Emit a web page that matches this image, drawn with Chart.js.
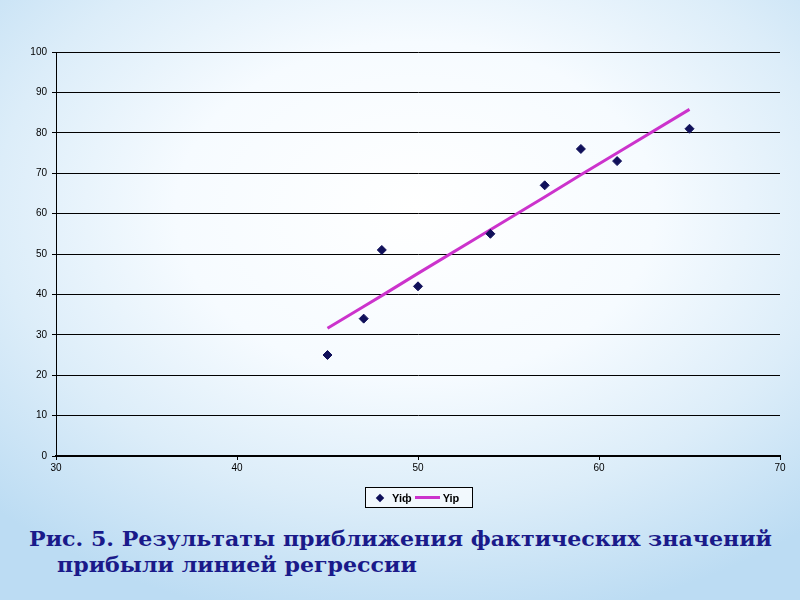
<!DOCTYPE html>
<html>
<head>
<meta charset="utf-8">
<script src="https://cdn.jsdelivr.net/npm/chart.js@4"></script>
<style>
  html, body { margin:0; padding:0; }
  body {
    width:800px; height:600px; overflow:hidden; position:relative;
    background: radial-gradient(ellipse 75% 70% at 52% 35%, #ffffff 0%, #f6fbff 40%, #dcedf9 70%, #bcdcf3 100%);
    font-family: "Liberation Sans", Arial, sans-serif;
  }
  #wrap { position:absolute; left:0; top:0; width:800px; height:520px; }
  #legend {
    position:absolute; left:365px; top:487px; width:106px; height:19px;
    border:1px solid #000; background:rgba(255,255,255,0.6);
    font: bold 11px "Liberation Sans", Arial, sans-serif; color:#000;
    display:flex; align-items:center;
  }
  #legend .item { display:flex; align-items:center; }
  .diamond { width:6px; height:6px; background:#10105a; transform:rotate(45deg); margin:0 9px 0 11px; }
  .seg { width:25px; height:3px; background:#cc33cc; margin:0 3px 0 3px; }
  .cap {
    position:absolute; white-space:nowrap; color:#1a1a8a;
    font-family: "DejaVu Serif", "Liberation Serif", serif; font-weight:bold; font-size:21px;
    transform-origin: 0 0;
  }
</style>
</head>
<body>
<div id="wrap"><canvas id="c" width="800" height="520"></canvas></div>
<div id="legend"></div>
<div class="cap" id="cap1" style="left:29px; top:526px;">Рис. 5. Результаты приближения фактических значений</div>
<div class="cap" id="cap2" style="left:57px; top:552px;">прибыли линией регрессии</div>
<script>
// ---- data ----
const xFact = [45, 47, 48, 50, 54, 57, 59, 61, 65];
const yFact = [25, 34, 51, 42, 55, 67, 76, 73, 81];
const xCalc = [45, 47, 48, 50, 54, 57, 59, 61, 65];
const yCalc = [31.6, 37.0, 39.7, 45.2, 56.0, 64.1, 69.6, 75.0, 85.8];
const seriesNames = ["Yiф", "Yiр"];
const xTickLabels = [30, 40, 50, 60, 70];
const yTickLabels = [0, 10, 20, 30, 40, 50, 60, 70, 80, 90, 100];

// caption width fit
const cap1 = document.getElementById('cap1');
const w1 = cap1.getBoundingClientRect().width;
const sx = 743 / w1;
cap1.style.transform = 'scaleX(' + sx + ')';
document.getElementById('cap2').style.transform = 'scaleX(' + sx + ')';

const factPts = xFact.map((x, i) => ({ x: x, y: yFact[i] }));
const calcPts = xCalc.map((x, i) => ({ x: x, y: yCalc[i] }));

const chart = new Chart(document.getElementById('c'), {
  type: 'scatter',
  data: {
    datasets: [
      {
        label: seriesNames[0],
        data: factPts,
        pointStyle: 'rectRot',
        pointRadius: 4.5,
        pointHoverRadius: 4.5,
        backgroundColor: '#10105a',
        borderColor: '#10105a',
        borderWidth: 1,
        showLine: false,
        order: 1
      },
      {
        label: seriesNames[1],
        data: calcPts,
        showLine: true,
        borderColor: '#cc33cc',
        backgroundColor: '#cc33cc',
        borderWidth: 3,
        pointRadius: 0,
        pointHoverRadius: 0,
        tension: 0,
        order: 2
      }
    ]
  },
  options: {
    responsive: false,
    animation: false,
    events: [],
    layout: { padding: { left: 0, right: 20, top: 52, bottom: 39 } },
    plugins: {
      legend: { display: false },
      tooltip: { enabled: false }
    },
    scales: {
      x: {
        type: 'linear',
        min: 30, max: 70,
        afterBuildTicks: s => { s.ticks = xTickLabels.map(v => ({ value: v })); },
        afterFit: s => { s.height = 25; },
        grid: { drawOnChartArea: false, drawTicks: true, tickLength: 4, color: '#000' },
        border: { color: '#000', width: 2 },
        ticks: { color: '#000', font: { size: 10, family: '"Liberation Sans", Arial, sans-serif' }, padding: 2, maxRotation: 0 }
      },
      y: {
        type: 'linear',
        min: 0, max: 100,
        afterBuildTicks: s => { s.ticks = yTickLabels.map(v => ({ value: v })); },
        afterFit: s => { s.width = 56; },
        grid: { drawOnChartArea: true, drawTicks: true, tickLength: 4, color: '#000', lineWidth: 1 },
        border: { color: '#000', width: 1 },
        ticks: { color: '#000', font: { size: 10, family: '"Liberation Sans", Arial, sans-serif' }, padding: 5 }
      }
    }
  }
});

// legend built from datasets
const lg = document.getElementById('legend');
chart.data.datasets.forEach((ds, i) => {
  const it = document.createElement('div');
  it.className = 'item';
  const mk = document.createElement('div');
  mk.className = ds.showLine ? 'seg' : 'diamond';
  mk.style.background = ds.showLine ? ds.borderColor : ds.backgroundColor;
  const tx = document.createElement('span');
  tx.textContent = ds.label;
  it.appendChild(mk); it.appendChild(tx);
  lg.appendChild(it);
});
</script>
</body>
</html>
